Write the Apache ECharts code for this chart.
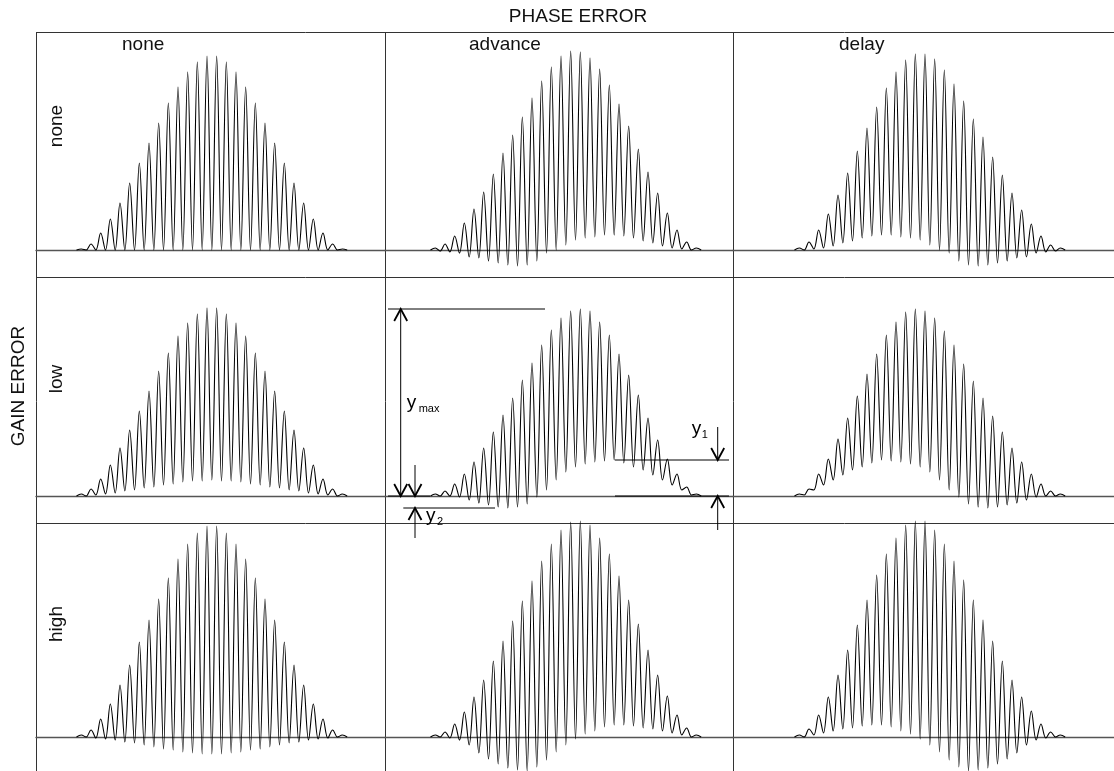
<!DOCTYPE html>
<html>
<head>
<meta charset="utf-8">
<title>Phase and gain error</title>
<script src="https://cdn.jsdelivr.net/npm/echarts@6/dist/echarts.min.js"></script>
<style>
  html, body { margin: 0; padding: 0; background: #fff; }
  #chart { width: 1114px; height: 771px; }
</style>
</head>
<body>
<div id="chart"></div>
<script>
// Row / column headings
const phaseLabels = ['none', 'advance', 'delay'];
const gainLabels = ['none', 'low', 'high'];

// Pulse-train amplitudes. Peaks sit at integer sample times t = -1 .. 26,
// troughs halfway between them at t = -1.5 .. 26.5.
const peaks_none_none     = [1, 6, 17, 31, 47, 67, 87, 107, 127, 147, 163, 178, 188, 194, 194, 188, 178, 163, 147, 127, 107, 87, 67, 47, 31, 17, 6, 1];
const troughs_none_none   = [0, 0, 0, 0, 0, 0, 0, 0, 0, 0, 0, 0, 0, 0, 0, 0, 0, 0, 0, 0, 0, 0, 0, 0, 0, 0, 0, 0, 0];
const peaks_none_advance  = [2, 6, 14, 27, 41, 58, 76, 97, 115, 133, 152, 169, 183, 194, 199, 198, 192, 181, 165, 146, 124, 101, 78, 57, 37, 20, 8, 2];
const troughs_none_advance= [0, -1, -2, -3, -7, -8, -11, -13, -15, -16, -15, -11, -3, 0, 5, 10, 12, 13, 15, 15, 14, 12, 9, 7, 4, 2, 1, 0, 0];
const peaks_none_delay    = [2, 8, 20, 36, 55, 77, 99, 122, 143, 162, 178, 190, 196, 196, 191, 180, 166, 149, 131, 113, 93, 75, 57, 40, 26, 14, 5, 2];
const troughs_none_delay  = [0, 0, 1, 2, 4, 7, 9, 12, 14, 15, 15, 13, 12, 10, 5, 0, -3, -11, -15, -16, -15, -13, -11, -8, -7, -3, -2, -1, 0];

const peaks_low_none      = [2, 7, 17, 31, 48, 66, 85, 105, 125, 143, 160, 173, 182, 188, 188, 182, 173, 160, 143, 125, 105, 85, 66, 48, 31, 17, 7, 2];
const troughs_low_none    = [0, 0, 1, 2, 3, 5, 6, 8, 9, 11, 12, 14, 15, 15, 16, 15, 15, 14, 12, 11, 9, 8, 6, 5, 3, 2, 1, 0, 0];
const peaks_low_advance   = [2, 5, 12, 22, 34, 48, 64, 81, 98, 116, 133, 151, 166, 178, 185, 187, 185, 174, 161, 142, 121, 101, 78, 56, 37, 22, 9, 2];
const troughs_low_advance = [0, 0, 0, -1, -4, -7, -9, -11, -12, -11, -8, -1, 6, 16, 24, 29, 32, 34, 35, 36, 33, 29, 26, 21, 16, 11, 6, 1, 0];
const peaks_low_delay     = [2, 7, 22, 37, 57, 78, 100, 122, 142, 161, 174, 184, 187, 185, 178, 165, 151, 132, 115, 98, 80, 64, 48, 34, 22, 12, 5, 2];
const troughs_low_delay   = [0, 1, 6, 11, 16, 21, 26, 29, 33, 36, 35, 34, 32, 29, 24, 16, 6, -1, -8, -11, -12, -11, -9, -7, -4, -1, 0, 0, 0];

const peaks_high_none     = [2, 7, 18, 33, 52, 72, 95, 117, 138, 159, 178, 193, 204, 211, 211, 204, 193, 178, 159, 138, 117, 95, 72, 52, 33, 18, 7, 2];
const troughs_high_none   = [0, 0, -1, -2, -3, -5, -6, -8, -10, -12, -13, -15, -16, -17, -17, -17, -16, -15, -13, -12, -10, -8, -6, -5, -3, -2, -1, 0, 0];
const peaks_high_advance  = [2, 5, 13, 25, 40, 57, 76, 96, 116, 136, 156, 176, 193, 207, 215, 216, 212, 199, 183, 161, 137, 113, 87, 62, 41, 22, 9, 2];
const troughs_high_advance= [0, 0, -1, -3, -8, -16, -22, -27, -31, -33, -34, -30, -23, -15, -8, -2, 3, 6, 10, 12, 12, 11, 9, 8, 6, 4, 2, 0, 0];
const peaks_high_delay    = [2, 8, 22, 40, 62, 87, 112, 137, 162, 183, 199, 212, 216, 216, 207, 193, 176, 157, 137, 117, 96, 76, 57, 40, 26, 13, 5, 2];
const troughs_high_delay  = [0, 0, 2, 4, 6, 8, 9, 11, 12, 12, 10, 6, 3, -2, -8, -15, -23, -30, -34, -33, -31, -27, -22, -16, -8, -3, -1, 0, 0];

// [gain][phase] -> [peaks, troughs]
const cells = [
  [[peaks_none_none, troughs_none_none], [peaks_none_advance, troughs_none_advance], [peaks_none_delay, troughs_none_delay]],
  [[peaks_low_none, troughs_low_none],   [peaks_low_advance, troughs_low_advance],   [peaks_low_delay, troughs_low_delay]],
  [[peaks_high_none, troughs_high_none], [peaks_high_advance, troughs_high_advance], [peaks_high_delay, troughs_high_delay]]
];

// ---- layout (pixels) ----
const COL_EDGES = [36, 385, 733, 1114];
const ROW_EDGES = [32, 277, 523, 771];
const BASELINES = [250, 496, 737];
const T0_PX = [91, 445, 809];      // where sample t = 0 lands in each column
const PERIOD_PX = 9.667;           // one pulse period
const FONT = "'Liberation Sans', Arial, Helvetica, sans-serif";

function pulseTrain(peaks, troughs) {
  const pts = [];
  for (let j = 0; j < troughs.length; j++) {
    pts.push([j - 1.5, troughs[j]]);
    if (j < peaks.length) pts.push([j - 1, peaks[j]]);
  }
  return pts;
}

const grids = [], xAxes = [], yAxes = [], series = [];
for (let r = 0; r < 3; r++) {
  for (let c = 0; c < 3; c++) {
    const idx = grids.length;
    const left = COL_EDGES[c], right = COL_EDGES[c + 1];
    const top = ROW_EDGES[r], bottom = ROW_EDGES[r + 1];
    grids.push({ left: left, top: top, width: right - left, height: bottom - top, containLabel: false });
    xAxes.push({
      gridIndex: idx, type: 'value',
      min: (left - T0_PX[c]) / PERIOD_PX, max: (right - T0_PX[c]) / PERIOD_PX,
      axisLine: { show: true, onZero: true, lineStyle: { color: '#555', width: 1.3 } },
      axisTick: { show: false }, axisLabel: { show: false }, splitLine: { show: false }
    });
    yAxes.push({
      gridIndex: idx, type: 'value',
      min: BASELINES[r] - bottom, max: BASELINES[r] - top,
      show: false, splitLine: { show: false }
    });
    const [pk, tr] = cells[r][c];
    series.push({
      type: 'line', xAxisIndex: idx, yAxisIndex: idx,
      data: pulseTrain(pk, tr),
      smooth: 0.364, showSymbol: false, clip: false, silent: true,
      lineStyle: { color: '#000', width: 1.1 }, z: 3
    });
  }
}

// Measurement annotations on the low-gain / phase-advance trace
const annPeaks = peaks_low_advance, annTroughs = troughs_low_advance;
const yMaxVal = Math.max.apply(null, annPeaks);
const y1Val = Math.max.apply(null, annTroughs);
const y2Val = Math.min.apply(null, annTroughs);
const annT = (px) => (px - T0_PX[1]) / PERIOD_PX;

series.push({
  type: 'custom', xAxisIndex: 4, yAxisIndex: 4, clip: false, silent: true, z: 5,
  data: [[0, 0]],
  renderItem: function (params, api) {
    const P = (t, v) => api.coord([t, v]);
    const stroke = { stroke: '#000', lineWidth: 1 };
    const seg = (a, b) => ({ type: 'line', shape: { x1: a[0], y1: a[1], x2: b[0], y2: b[1] }, style: stroke });
    // dir = 1: arrow points down; dir = -1: arrow points up
    const head = (tip, dir) => ({
      type: 'polyline',
      shape: { points: [[tip[0] - 6.5, tip[1] - dir * 12], [tip[0], tip[1]], [tip[0] + 6.5, tip[1] - dir * 12]] },
      style: { stroke: '#000', lineWidth: 1.8, fill: null }
    });
    const txt = (x, y, s, size) => ({
      type: 'text', x: x, y: y,
      style: { text: s, fontFamily: FONT, fontSize: size, fill: '#000', align: 'left', verticalAlign: 'middle' }
    });
    const kids = [];
    // y_max
    const tMaxL = annT(388), tMaxR = annT(545), tMaxArrow = annT(400.7);
    const top = P(tMaxArrow, yMaxVal), bot = P(tMaxArrow, 0);
    kids.push(seg(P(tMaxL, yMaxVal), P(tMaxR, yMaxVal)));
    kids.push(seg(P(tMaxL, 0), P(annT(430), 0)));
    kids.push(seg(top, bot), head(top, -1), head(bot, 1));
    const mid = (top[1] + bot[1]) / 2;
    kids.push(txt(top[0] + 6, mid, 'y', 19), txt(top[0] + 18, mid + 6, 'max', 11));
    // y_2
    const t2Arrow = annT(415);
    const y2p = P(t2Arrow, y2Val), zero2 = P(t2Arrow, 0);
    kids.push(seg(P(annT(403.3), y2Val), P(annT(495), y2Val)));
    kids.push(seg([zero2[0], zero2[1] - 31], zero2), head(zero2, 1));
    kids.push(seg([y2p[0], y2p[1] + 30], y2p), head(y2p, -1));
    kids.push(txt(y2p[0] + 11, y2p[1] + 8, 'y', 19), txt(y2p[0] + 22, y2p[1] + 14, '2', 11));
    // y_1
    const t1Arrow = annT(717.7);
    const y1p = P(t1Arrow, y1Val), zero1 = P(t1Arrow, 0);
    kids.push(seg(P(annT(615), y1Val), P(annT(729), y1Val)));
    kids.push(seg(P(annT(615), 0), P(annT(729), 0)));
    kids.push(seg([y1p[0], y1p[1] - 33], y1p), head(y1p, 1));
    kids.push(seg([zero1[0], zero1[1] + 34], zero1), head(zero1, -1));
    kids.push(txt(y1p[0] - 26, y1p[1] - 31, 'y', 19), txt(y1p[0] - 16, y1p[1] - 25, '1', 11));
    return { type: 'group', children: kids };
  }
});

// Frame lines and headings
const frame = { stroke: '#333', lineWidth: 1 };
const graphics = [];
[ROW_EDGES[0], ROW_EDGES[1], ROW_EDGES[2]].forEach(function (y) {
  graphics.push({ type: 'line', shape: { x1: COL_EDGES[0], y1: y + 0.5, x2: COL_EDGES[3], y2: y + 0.5 }, style: frame, silent: true });
});
[COL_EDGES[0], COL_EDGES[1], COL_EDGES[2]].forEach(function (x) {
  graphics.push({ type: 'line', shape: { x1: x + 0.5, y1: ROW_EDGES[0], x2: x + 0.5, y2: ROW_EDGES[3] }, style: frame, silent: true });
});
const labelStyle = (s, align) => ({ text: s, fontFamily: FONT, fontSize: 19, fill: '#111', align: align, verticalAlign: 'middle' });
graphics.push({ type: 'text', x: 578, y: 17, style: labelStyle('PHASE ERROR', 'center'), silent: true });
graphics.push({ type: 'text', x: 19, y: 386, rotation: Math.PI / 2, style: labelStyle('GAIN ERROR', 'center'), silent: true });
const colLabelX = [122, 469, 839];
phaseLabels.forEach(function (s, c) {
  graphics.push({ type: 'text', x: colLabelX[c], y: 45, style: labelStyle(s, 'left'), silent: true });
});
const rowLabelY = [126, 379, 624];
gainLabels.forEach(function (s, r) {
  graphics.push({ type: 'text', x: 57, y: rowLabelY[r], rotation: Math.PI / 2, style: labelStyle(s, 'center'), silent: true });
});

const chart = echarts.init(document.getElementById('chart'));
chart.setOption({
  backgroundColor: '#fff',
  animation: false,
  grid: grids,
  xAxis: xAxes,
  yAxis: yAxes,
  series: series,
  graphic: graphics
});
</script>
</body>
</html>
